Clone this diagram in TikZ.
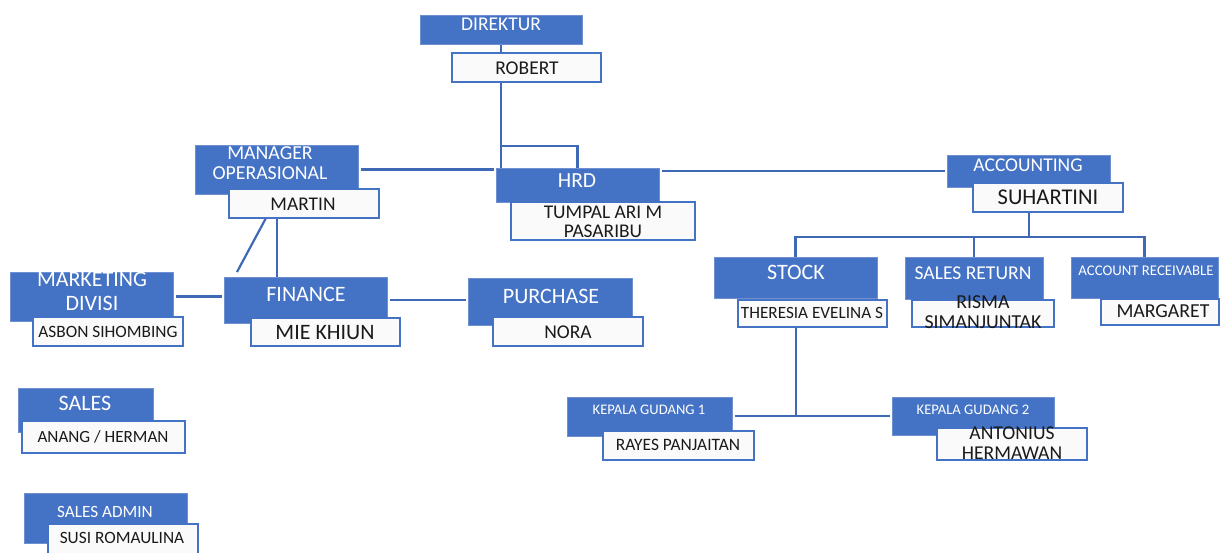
\documentclass[tikz,border=0pt]{standalone}
\usepackage{fontspec}
\setmainfont{Carlito}
\usetikzlibrary{calc}
\pgfdeclarelayer{bg}
\pgfsetlayers{bg,main}
\definecolor{obl}{HTML}{4472C4}
\definecolor{obd}{HTML}{6F91D2}
\definecolor{oln}{HTML}{3F68B5}
\definecolor{owf}{HTML}{FAFAFA}
\definecolor{otx}{HTML}{1A1A1A}
\newcommand\orgbox[6]{%
  \node[#1, minimum width={#5-#3}, minimum height={#6-#4}] (#2) at ({(#3+#5)/2},{(#4+#6)/2}) {};}
\tikzset{
  bluebox/.style={rectangle, fill=obl, draw=obd, line width=0.8pt, inner sep=0pt, outer sep=0pt},
  whitebox/.style={rectangle, fill=owf, draw=obl, line width=2pt, inner sep=0pt, outer sep=0pt},
  btxt/.style={text=white, inner sep=0pt, align=center, text depth=0pt},
  wtxt/.style={text=otx, inner sep=0pt, align=center, text depth=0pt},
  conn/.style={draw=oln, line width=2.2pt},
  gap/.style={shorten >=2.5pt, shorten <=2.5pt},
  fs/.style={font={\fontsize{#1}{#1}\selectfont}}
}
\begin{document}
\begin{tikzpicture}[x=1pt,y=-1pt]
\useasboundingbox (0,0) rectangle (1229,552);
% blue title boxes
\orgbox{bluebox}{dir}{420}{15}{582}{44}
\orgbox{bluebox}{mgr}{195}{145}{358}{194}
\orgbox{bluebox}{hrd}{496}{168}{659}{202}
\orgbox{bluebox}{acc}{947}{155}{1110}{187}
\orgbox{bluebox}{mkt}{10}{272}{173}{321}
\orgbox{bluebox}{fin}{224}{277}{387}{323}
\orgbox{bluebox}{pur}{468}{278}{632}{325}
\orgbox{bluebox}{stock}{714}{257}{877}{298}
\orgbox{bluebox}{sret}{905}{257}{1043}{299}
\orgbox{bluebox}{arcv}{1071}{257}{1218}{298}
\orgbox{bluebox}{sales}{18}{388}{153}{432}
\orgbox{bluebox}{sadm}{24}{493}{187}{543}
\orgbox{bluebox}{kgA}{567}{397}{732}{436}
\orgbox{bluebox}{kgB}{892}{397}{1054}{435}
% white name boxes
\orgbox{whitebox}{rob}{452}{53}{601}{82}
\orgbox{whitebox}{martin}{229}{189}{379}{218}
\orgbox{whitebox}{tumpal}{511}{202}{695}{240}
\orgbox{whitebox}{suh}{973}{183}{1123}{212}
\orgbox{whitebox}{asbon}{33}{317}{183}{346}
\orgbox{whitebox}{mie}{251}{318}{400}{346}
\orgbox{whitebox}{nora}{493}{317}{643}{346}
\orgbox{whitebox}{ther}{738}{300}{887}{327}
\orgbox{whitebox}{risma}{912}{300}{1054}{327}
\orgbox{whitebox}{marg}{1101}{299}{1219}{325}
\orgbox{whitebox}{anang}{22}{421}{185}{453}
\orgbox{whitebox}{susi}{48}{524}{198}{562}
\orgbox{whitebox}{rayes}{603}{431}{754}{460}
\orgbox{whitebox}{anton}{937}{428}{1087}{460}
% titles
\node[btxt, fs=19.5] (dirT) at (501,24) {DIREKTUR};
\node[btxt, font={\fontsize{19.8}{20}\selectfont}] (mgrT) at (270,163) {MANAGER\\OPERASIONAL};
\node[btxt, fs=21.5] (hrdT) at (577,181) {HRD};
\node[btxt, fs=19.5] (accT) at (1028,165) {ACCOUNTING};
\node[btxt, font={\fontsize{22}{24}\selectfont}] (mktT) at (92,291) {MARKETING\\DIVISI};
\node[btxt, fs=22] (finT) at (306,294) {FINANCE};
\node[btxt, fs=22] (purT) at (551,296) {PURCHASE};
\node[btxt, fs=22] (stockT) at (796,272) {STOCK};
\node[btxt, fs=19.6] (sretT) at (973,273) {SALES RETURN};
\node[btxt, fs=14.8] (arcvT) at (1146,271) {ACCOUNT RECEIVABLE};
\node[btxt, fs=22] (salesT) at (85,403) {SALES};
\node[btxt, fs=17.2] (sadmT) at (105,512) {SALES ADMIN};
\node[btxt, fs=14.6] (kgAT) at (649,410) {KEPALA GUDANG 1};
\node[btxt, fs=14.6] (kgBT) at (973,410) {KEPALA GUDANG 2};
% names
\node[wtxt, fs=19.5] (robT) at (527,68) {ROBERT};
\node[wtxt, fs=19.4] (martinT) at (303,204) {MARTIN};
\node[wtxt, font={\fontsize{19.4}{19}\selectfont}] (tumpalT) at (603,221.5) {TUMPAL ARI M\\PASARIBU};
\node[wtxt, fs=22.5] (suhT) at (1048,197) {SUHARTINI};
\node[wtxt, fs=17.3] (asbonT) at (108,332) {ASBON SIHOMBING};
\node[wtxt, fs=22] (mieT) at (325,332) {MIE KHIUN};
\node[wtxt, fs=19.5] (noraT) at (568,332) {NORA};
\node[wtxt, fs=17.2] (therT) at (812,313) {THERESIA EVELINA S};
\node[wtxt, font={\fontsize{19.8}{20}\selectfont}] (rismaT) at (983,312) {RISMA\\SIMANJUNTAK};
\node[wtxt, fs=19.8] (margT) at (1163,311) {MARGARET};
\node[wtxt, fs=17.1] (anangT) at (103,437) {ANANG / HERMAN};
\node[wtxt, fs=17.3] (susiT) at (122,538) {SUSI ROMAULINA};
\node[wtxt, fs=17.4] (rayesT) at (678,445) {RAYES PANJAITAN};
\node[wtxt, font={\fontsize{19.6}{20}\selectfont}] (antonT) at (1012,443) {ANTONIUS\\HERMAWAN};
% connector helper points
\coordinate (brk) at (501,146);
\coordinate (accj) at (1029,237);
\coordinate (kgj) at (796,416);
\coordinate (mA) at (266,218);
\coordinate (mB) at (237,272);
\coordinate (mC) at (277,218);
\begin{pgfonlayer}{bg}
\draw[conn] (dir.south) -- (dir.south |- hrd.north);
\draw[conn] (brk) -| (hrd.north);
\draw[conn, gap] (mgr.east) -- (mgr.east -| hrd.west);
\draw[conn, gap] (hrd.east |- acc.west) -- (acc.west);
\draw[conn] (suh.south -| accj) -- (accj);
\draw[conn] (stock.north) |- (accj) -| (arcv.north);
\draw[conn] (sret.north) -- (sret.north |- accj);
\draw[conn] (ther.south -| kgj) -- (kgj);
\draw[conn, gap] (kgA.east |- kgj) -- (kgB.west |- kgj);
\draw[conn, gap] (mkt.east) -- (mkt.east -| fin.west);
\draw[conn, gap] (fin.east) -- (fin.east -| pur.west);
\draw[conn] (mA) -- (mB);
\draw[conn] (mC) -- (mC |- fin.north);
\end{pgfonlayer}
\end{tikzpicture}
\end{document}
